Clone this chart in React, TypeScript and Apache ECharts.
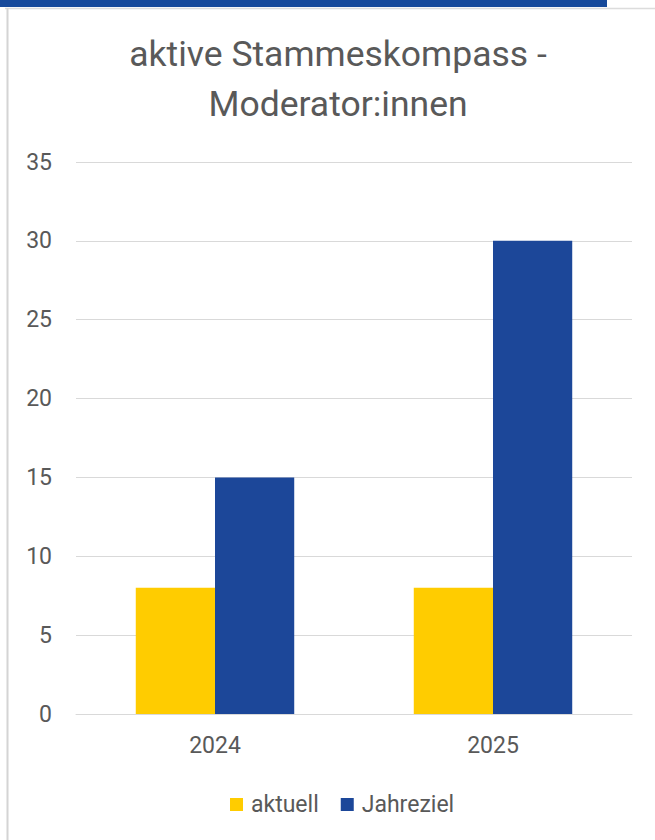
import React, { useEffect, useRef } from "react";
import * as echarts from "echarts";

const categories = ["2024", "2025"];
const aktuell = [8, 8];
const jahreziel = [15, 30];
const seriesNames = ["aktuell", "Jahreziel"];
const titleLines = ["aktive Stammeskompass -", "Moderator:innen"];

export default function App() {
  const ref = useRef<HTMLDivElement>(null);
  useEffect(() => {
    const chart = echarts.init(ref.current!, null, { renderer: "svg" });
    const font = "Roboto";
    chart.setOption({
      animation: false,
      backgroundColor: "#ffffff",
      title: {
        text: titleLines.join("\n"),
        left: 333,
        textAlign: "center",
        top: 24,
        textStyle: { fontFamily: font, fontSize: 35.5, fontWeight: "normal", color: "#595959", lineHeight: 50 },
      },
      graphic: [
        { type: "rect", shape: { x: 0, y: 0, width: 607, height: 7 }, style: { fill: "#174a9b" } },
        { type: "line", shape: { x1: 5, y1: 8.5, x2: 655, y2: 8.5 }, style: { stroke: "#dcdcdc", lineWidth: 1.5 } },
        { type: "line", shape: { x1: 7.5, y1: 8, x2: 7.5, y2: 840 }, style: { stroke: "#d4d4d4", lineWidth: 2 } },
      ],
      legend: {
        bottom: 19,
        left: 225,
        itemWidth: 13,
        itemHeight: 13,
        itemGap: 22,
        icon: "rect",
        textStyle: { fontFamily: font, fontSize: 23, color: "#595959", padding: [0, 0, 0, 3] },
        data: seriesNames,
      },
      grid: { left: 76, right: 23, top: 162, bottom: 126, containLabel: false },
      xAxis: {
        type: "category",
        data: categories,
        axisLine: { lineStyle: { color: "#d9d9d9", width: 1 } },
        axisTick: { show: false },
        axisLabel: { fontFamily: font, fontSize: 23, color: "#595959", margin: 20 },
      },
      yAxis: {
        type: "value",
        min: 0,
        max: 35,
        interval: 5,
        axisLine: { show: false },
        axisTick: { show: false },
        splitLine: { lineStyle: { color: "#d9d9d9", width: 1 } },
        axisLabel: { fontFamily: font, fontSize: 23, color: "#595959", margin: 24 },
      },
      series: [
        { name: seriesNames[0], type: "bar", data: aktuell, barGap: "0%", barCategoryGap: "43%", itemStyle: { color: "#ffcc00" } },
        { name: seriesNames[1], type: "bar", data: jahreziel, barGap: "0%", barCategoryGap: "43%", itemStyle: { color: "#1c4799" } },
      ],
    });
    return () => chart.dispose();
  }, []);
  return <div ref={ref} style={{ position: "fixed", left: 0, top: 0, width: 655, height: 840 }} />;
}
